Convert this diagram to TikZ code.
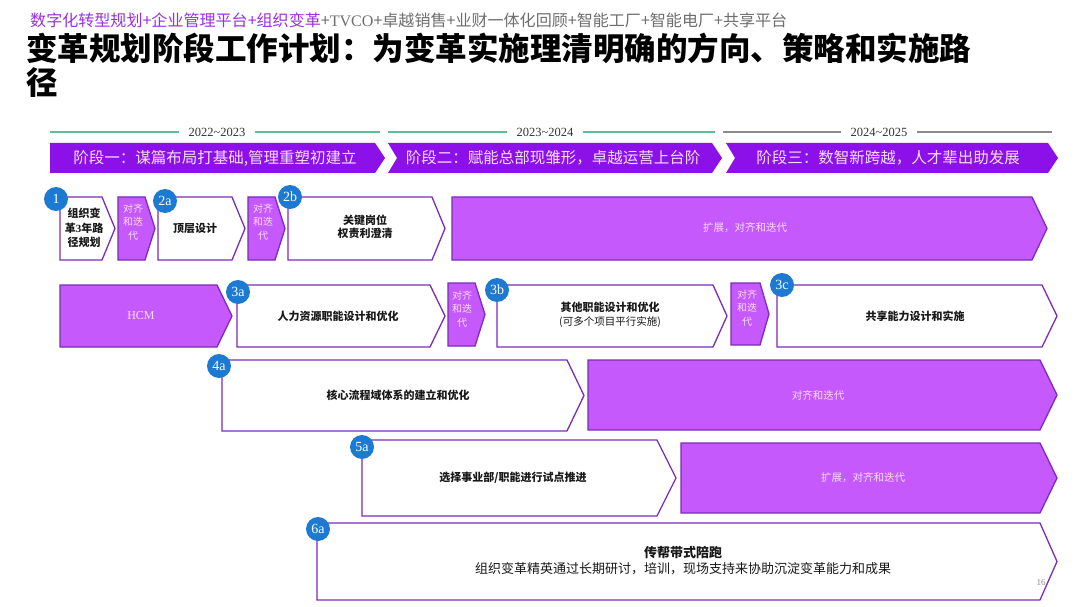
\documentclass[tikz,border=0pt]{standalone}
\usepackage{fontspec}
\usepackage{graphicx}
\setmainfont{Noto Sans CJK SC}
\newfontfamily\tnr{Liberation Serif}
\definecolor{boxline}{HTML}{7A2DB8}
\definecolor{pfill}{HTML}{C559FC}
\definecolor{banner}{HTML}{8B11E8}
\definecolor{numblue}{HTML}{1C7AD2}
\definecolor{ptext}{HTML}{F8DEFF}
\definecolor{titlepurple}{HTML}{9B2FE0}
\definecolor{subgray}{HTML}{6E6E6E}
\definecolor{yeargreen}{HTML}{5DBE98}
\definecolor{yeargray}{HTML}{8A8A8A}
\newcommand\chev[6]{\draw[#1] (#2,#3) -- (#4,#3) -- (#6,{(#3+#5)/2}) -- (#4,#5) -- (#2,#5) -- cycle;}
\newcommand\nchev[7]{\fill[#1] (#2,#3) -- (#4,#3) -- (#6,{(#3+#5)/2}) -- (#4,#5) -- (#2,#5) -- (#7,{(#3+#5)/2}) -- cycle;}
\tikzset{
  wbox/.style={draw=boxline, fill=white, line width=1.3pt},
  pbox/.style={draw=boxline, fill=pfill, line width=1.3pt},
  num/.style={circle, fill=numblue, text=white, minimum size=24pt, inner sep=0pt, font=\tnr\fontsize{14}{14}\selectfont},
  btxt/.style={font=\bfseries\fontsize{11}{14.5}\selectfont, text=black!90, align=center, inner sep=0pt},
  ptxt/.style={font=\fontsize{10}{13.5}\selectfont, text=ptext, align=center, inner sep=0pt},
  bantxt/.style={font=\fontsize{15.5}{16}\selectfont, text=ptext, inner sep=0pt},
  yeartxt/.style={font=\tnr\fontsize{12.5}{13}\selectfont, text=black!80, inner xsep=9pt, inner ysep=0pt},
  gline/.style={yeargreen, line width=1.3pt},
  grline/.style={yeargray, line width=1.3pt},
}
\begin{document}
\begin{tikzpicture}[x=1pt,y=-1pt]
\useasboundingbox[fill=white] (0,0) rectangle (1080,607);
% header
\node[anchor=west, inner sep=0pt] (sub) at (30,20) {\resizebox{757pt}{!}{\fontsize{15}{15}\selectfont\textcolor{titlepurple}{数字化转型规划+企业管理平台+组织变革}\textcolor{subgray}{+{\tnr TVCO}+卓越销售+业财一体化回顾+智能工厂+智能电厂+共享平台}}};
\node[anchor=west, inner sep=0pt, font=\bfseries\fontsize{31.5}{35}\selectfont] (title1) at (26,48) {变革规划阶段工作计划：为变革实施理清明确的方向、策略和实施路};
\node[anchor=west, inner sep=0pt, font=\bfseries\fontsize{31.5}{35}\selectfont] (title2) at (26,83) {径};
% years
\node[yeartxt] (y1) at (217,132) {2022\textasciitilde2023};
\node[yeartxt] (y2) at (545,132) {2023\textasciitilde2024};
\node[yeartxt] (y3) at (879,132) {2024\textasciitilde2025};
\coordinate (y1l) at (50,132); \coordinate (y1r) at (380,132);
\coordinate (y2l) at (388,132); \coordinate (y2r) at (715,132);
\coordinate (y3l) at (723,132); \coordinate (y3r) at (1052,132);
\draw[gline] (y1l) -- (y1.west); \draw[gline] (y1.east) -- (y1r);
\draw[gline] (y2l) -- (y2.west); \draw[gline] (y2.east) -- (y2r);
\draw[grline] (y3l) -- (y3.west); \draw[grline] (y3.east) -- (y3r);
% banners
\fill[banner] (50,143) -- (375,143) -- (385,158) -- (375,173) -- (50,173) -- cycle;
\nchev{banner}{388}{143}{712}{173}{722}{397}
\nchev{banner}{726}{143}{1048}{173}{1058}{735}
\node[bantxt] (b1) at (215,158) {阶段一：谋篇布局打基础,管理重塑初建立};
\node[bantxt] (b2) at (553,158) {阶段二：赋能总部现雏形，卓越运营上台阶};
\node[bantxt] (b3) at (888,158) {阶段三：数智新跨越，人才辈出助发展};
% row 1
\chev{wbox}{60}{197}{102}{260}{115}
\chev{pbox}{118}{197}{145}{260}{155}
\chev{wbox}{158}{197}{232}{260}{245}
\chev{pbox}{248}{197}{275}{260}{285}
\chev{wbox}{288}{197}{432}{260}{445}
\chev{pbox}{452}{197}{1032}{260}{1047}
\node[btxt] (t1) at (84,228) {组织变\\革{\tnr 3}年路\\径规划};
\node[ptxt] (a1) at (133,222) {对齐\\和迭\\代};
\node[btxt] (t2a) at (195,228) {顶层设计};
\node[ptxt] (a2) at (263,222) {对齐\\和迭\\代};
\node[btxt, font=\bfseries\fontsize{11}{13.5}\selectfont] (t2b) at (365,227) {关键岗位\\权责利澄清};
\node[ptxt, font=\fontsize{10.5}{12}\selectfont] (e1) at (745,228) {扩展，对齐和迭代};
\node[num] (n1) at (56,199) {1};
\node[num] (n2a) at (165,201) {2a};
\node[num] (n2b) at (290,197) {2b};
% row 2
\chev{pbox}{60}{285}{217}{347}{232}
\chev{wbox}{237}{285}{430}{347}{445}
\chev{pbox}{448}{283}{475}{346}{485}
\chev{wbox}{497}{285}{713}{347}{727}
\chev{pbox}{731}{283}{760}{345}{769}
\chev{wbox}{777}{285}{1042}{347}{1057}
\node[ptxt, font=\tnr\fontsize{12}{12}\selectfont] (hcm) at (141,316) {HCM};
\node[btxt] (t3a) at (338,316) {人力资源职能设计和优化};
\node[ptxt] (a3) at (462,309) {对齐\\和迭\\代};
\node[btxt, font=\bfseries\fontsize{11}{14}\selectfont] (t3b) at (610,315) {其他职能设计和优化\\{\fontsize{10.5}{14}\selectfont\mdseries (可多个项目平行实施)}};
\node[ptxt] (a4) at (747,308) {对齐\\和迭\\代};
\node[btxt] (t3c) at (915,316) {共享能力设计和实施};
\node[num] (n3a) at (238,292) {3a};
\node[num] (n3b) at (497,290) {3b};
\node[num] (n3c) at (782,285) {3c};
% row 3
\chev{wbox}{222}{360}{567}{431}{584}
\chev{pbox}{588}{360}{1040}{430}{1057}
\node[btxt] (t4a) at (398,395) {核心流程域体系的建立和优化};
\node[ptxt, font=\fontsize{10.5}{12}\selectfont] (p4) at (818,395) {对齐和迭代};
\node[num] (n4a) at (219,366) {4a};
% row 4
\chev{wbox}{362}{440}{657}{516}{676}
\chev{pbox}{681}{443}{1040}{513}{1057}
\node[btxt] (t5a) at (513,478) {选择事业部/职能进行试点推进};
\node[ptxt, font=\fontsize{10.5}{12}\selectfont] (p5) at (863,478) {扩展，对齐和迭代};
\node[num] (n5a) at (362,447) {5a};
% row 5
\node[inner sep=0pt, font=\tnr\fontsize{9}{9}\selectfont, text=yeargray] (pg) at (1041,583) {16};
\chev{wbox, fill=none}{317}{523}{1040}{600}{1057}
\node[btxt, font=\bfseries\fontsize{13}{13}\selectfont] (t6a) at (683,553) {传帮带式陪跑};
\node[btxt, font=\fontsize{13}{13}\selectfont] (t6b) at (683,569) {组织变革精英通过长期研讨，培训，现场支持来协助沉淀变革能力和成果};
\node[num] (n6a) at (318,529) {6a};
\end{tikzpicture}
\end{document}
